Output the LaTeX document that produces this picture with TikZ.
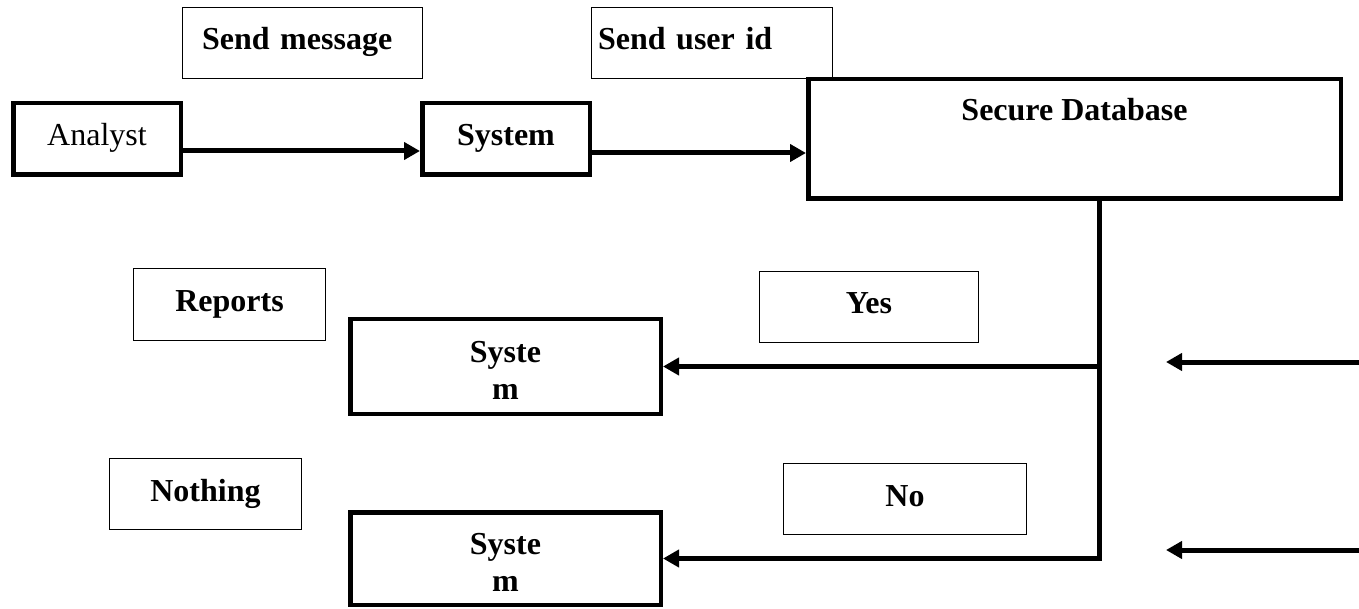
\documentclass[tikz,border=0pt]{standalone}
\usepackage{fontspec}
\setmainfont{Liberation Serif}
\usetikzlibrary{arrows.meta}
\begin{document}
\begin{tikzpicture}[x=1pt,y=-1pt,
  base/.style={inner sep=0pt, align=center, font=\fontsize{32}{37}\selectfont\bfseries},
  oneline/.style={text height=21pt, text depth=7pt},
  twoline/.style={text height=65pt, text depth=0pt},
  heavy/.style={base, draw, line width=4.5pt},
  light/.style={base, draw, line width=1.3pt},
  conn/.style={line width=5pt, line join=miter},
  arr/.style={conn, -{Triangle[length=16pt,width=17pt]}}
]
\useasboundingbox (0,0) rectangle (1359,609);

% top row
\node[light, oneline, minimum width=240pt, minimum height=71pt, text width=201pt, align=left, inner xsep=19.5pt] (sendmsg) at (302.5,43) {Send message};
\node[light, oneline, minimum width=241pt, minimum height=71pt, text width=228pt, align=left, inner xsep=6.5pt] (senduid) at (712,43) {Send user id};

\node[heavy, oneline, minimum width=167.5pt, minimum height=71.5pt, font=\fontsize{32}{37}\selectfont] (analyst) at (97,139) {Analyst};
\node[heavy, oneline, minimum width=167.5pt, minimum height=71.5pt] (system) at (506,139) {System};
\node[heavy, text height=21pt, text depth=57pt, minimum width=532.5pt, minimum height=119.5pt] (db) at (1074.5,139) {Secure Database};

% lower part
\node[light, oneline, minimum width=192pt, minimum height=72pt] (reports) at (229.5,304.5) {Reports};
\node[light, oneline, minimum width=219pt, minimum height=71pt] (yes) at (869,307) {Yes};
\node[heavy, twoline, minimum width=310.5pt, minimum height=94.5pt] (sys2) at (505.5,366.5) {Syste\\m};

\node[light, oneline, minimum width=192pt, minimum height=71pt] (nothing) at (205.5,494) {Nothing};
\node[light, oneline, minimum width=243pt, minimum height=71pt] (no) at (905,499) {No};
\node[heavy, twoline, minimum width=310.5pt, minimum height=92.5pt] (sys3) at (505.5,558.5) {Syste\\m};

% connectors top
\coordinate (a1) at ([yshift=-12pt]analyst.east);
\draw[arr] (a1) -- (a1 -| system.west);
\coordinate (a2) at ([yshift=-14pt]system.east);
\draw[arr] (a2) -- (a2 -| db.west);

% branch from database
\coordinate (jtop) at ([xshift=24.5pt]db.south);
\coordinate (jy) at (sys2.east -| jtop);
\coordinate (jn) at (sys3.east -| jtop);
\draw[arr] (jtop) -- (jn) -- (sys3.east);
\draw[arr] (jy) -- (sys2.east);

% free arrows on the right
\coordinate (r1s) at (1359,362);
\coordinate (r1e) at (1166,362);
\coordinate (r2s) at (1359,550);
\coordinate (r2e) at (1166,550);
\draw[arr] (r1s) -- (r1e);
\draw[arr] (r2s) -- (r2e);
\end{tikzpicture}
\end{document}
